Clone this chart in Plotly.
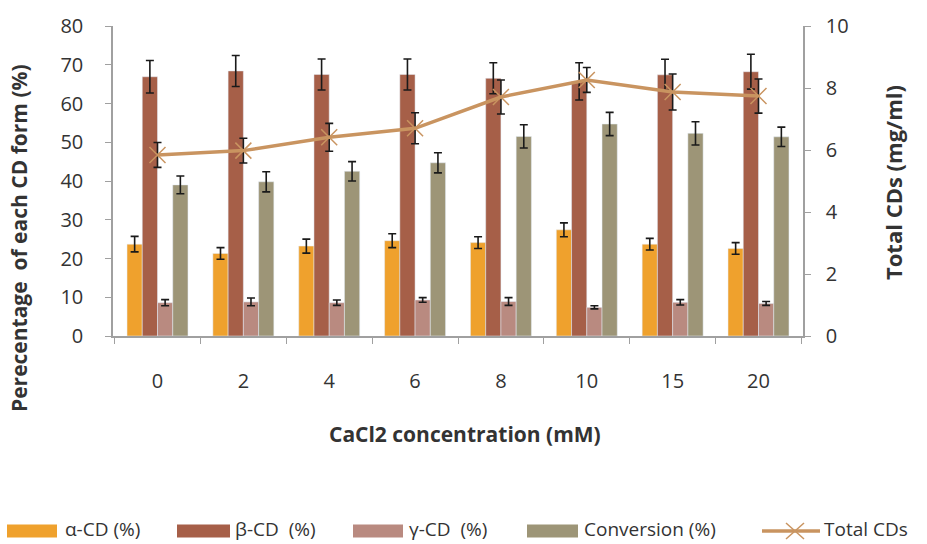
import plotly.graph_objects as go

conc = ["0", "2", "4", "6", "8", "10", "15", "20"]
alpha = [23.7, 21.3, 23.2, 24.6, 24.1, 27.4, 23.7, 22.6]
alpha_err = [2.0, 1.5, 1.8, 1.8, 1.5, 1.8, 1.5, 1.5]
beta = [66.9, 68.4, 67.5, 67.5, 66.5, 65.7, 67.4, 68.2]
beta_err = [4.2, 4.0, 4.0, 4.0, 4.0, 4.8, 4.0, 4.5]
gamma = [8.6, 8.8, 8.6, 9.3, 8.9, 7.4, 8.7, 8.4]
gamma_err = [0.8, 1.0, 0.7, 0.6, 1.0, 0.4, 0.7, 0.5]
conversion = [39.0, 39.8, 42.5, 44.7, 51.5, 54.7, 52.3, 51.4]
conversion_err = [2.3, 2.6, 2.5, 2.6, 3.0, 3.0, 3.0, 2.5]
total = [5.84, 5.98, 6.41, 6.70, 7.71, 8.26, 7.87, 7.74]
total_err = [0.4, 0.4, 0.45, 0.5, 0.55, 0.4, 0.58, 0.55]

series_names = ["α-CD (%)", "β-CD  (%)", "γ-CD  (%)", "Conversion (%)", "Total CDs"]
colors = ["#EFA12D", "#A65F48", "#B98A80", "#9D9577", "#C99460"]

FONT = "Open Sans"
TXT = "#333333"

W, H = 927, 544
ML, MR, MT, MB = 113, 124, 26, 208
PW, PH = W - ML - MR, H - MT - MB


def px(x):
    return (x - ML) / PW


def py(y):
    return (H - MB - y) / PH


def eb(vals):
    return dict(type="data", array=vals, visible=True, color="#1a1a1a",
                thickness=1.6, width=4)


fig = go.Figure()
bar_data = [(alpha, alpha_err), (beta, beta_err), (gamma, gamma_err),
            (conversion, conversion_err)]
for i, (vals, errs) in enumerate(bar_data):
    fig.add_trace(go.Bar(x=conc, y=vals, name=series_names[i], marker_color=colors[i],
                         error_y=eb(errs), showlegend=False))
fig.add_trace(go.Scatter(x=conc, y=total, name=series_names[4], yaxis="y2",
                         mode="lines+markers", showlegend=False,
                         line=dict(color=colors[4], width=3.5),
                         marker=dict(symbol="x-thin", size=16,
                                     line=dict(color=colors[4], width=1.5)),
                         error_y=eb(total_err)))

# manual legend (wide swatches as in the reference)
shapes = []
annotations = []
leg_y = 531
swatch_x = [(7, 57), (177, 230), (353, 403), (527, 578)]
text_x = [63, 233, 407, 582, 822]
for i, (x0, x1) in enumerate(swatch_x):
    shapes.append(dict(type="rect", xref="paper", yref="paper",
                       x0=px(x0), x1=px(x1), y0=py(leg_y + 6.5), y1=py(leg_y - 6.5),
                       fillcolor=colors[i], line=dict(width=0)))
shapes.append(dict(type="line", xref="paper", yref="paper",
                   x0=px(762), x1=px(820), y0=py(leg_y), y1=py(leg_y),
                   line=dict(color=colors[4], width=3.5)))
for (a, b, c, d) in [(786, leg_y - 8, 804, leg_y + 8), (786, leg_y + 8, 804, leg_y - 8)]:
    shapes.append(dict(type="line", xref="paper", yref="paper",
                       x0=px(a), y0=py(b), x1=px(c), y1=py(d),
                       line=dict(color=colors[4], width=1.5)))
for i, name in enumerate(series_names):
    annotations.append(dict(text=name, xref="paper", yref="paper", x=px(text_x[i]),
                            y=py(leg_y - 2), xanchor="left", yanchor="middle",
                            showarrow=False, font=dict(size=19, color=TXT)))

annotations += [
    dict(text="<b>CaCl2 concentration (mM)</b>", xref="paper", yref="paper",
         x=px(465), y=py(434), xanchor="center", yanchor="middle", showarrow=False,
         font=dict(size=21)),
    dict(text="<b>Perecentage  of each CD form (%)</b>", xref="paper", yref="paper",
         x=px(19), xanchor="center", y=py(238), yanchor="middle", textangle=-90,
         showarrow=False, font=dict(size=21)),
    dict(text="<b>Total CDs (mg/ml)</b>", xref="paper", yref="paper",
         x=px(893), xanchor="center", y=py(182), yanchor="middle", textangle=-90,
         showarrow=False, font=dict(size=22)),
]

fig.update_layout(
    width=W, height=H,
    margin=dict(l=ML, r=MR, t=MT, b=MB, autoexpand=False),
    plot_bgcolor="white", paper_bgcolor="white",
    barmode="group", bargap=0.29, bargroupgap=0,
    font=dict(family=FONT, size=20, color=TXT),
    showlegend=False,
    xaxis=dict(type="category", showline=True, linecolor="#a0a0a0", linewidth=1.5,
               ticks="outside", tickson="boundaries", ticklen=6, tickcolor="#a0a0a0",
               ticklabelstandoff=26, showgrid=False, zeroline=False,
               tickfont=dict(size=20)),
    yaxis=dict(range=[0, 80], dtick=10, showline=True, linecolor="#a0a0a0", linewidth=1.5,
               ticks="outside", ticklen=6, tickcolor="#a0a0a0", showgrid=False,
               ticklabelstandoff=18, zeroline=False, tickfont=dict(size=20)),
    yaxis2=dict(range=[0, 10], dtick=2, overlaying="y", side="right", showline=True,
                linecolor="#a0a0a0", linewidth=1.5, ticks="outside", ticklen=6,
                tickcolor="#a0a0a0", showgrid=False, zeroline=False,
                ticklabelstandoff=11, tickfont=dict(size=20)),
    shapes=shapes,
    annotations=annotations,
)

fig.write_html("out.html")
